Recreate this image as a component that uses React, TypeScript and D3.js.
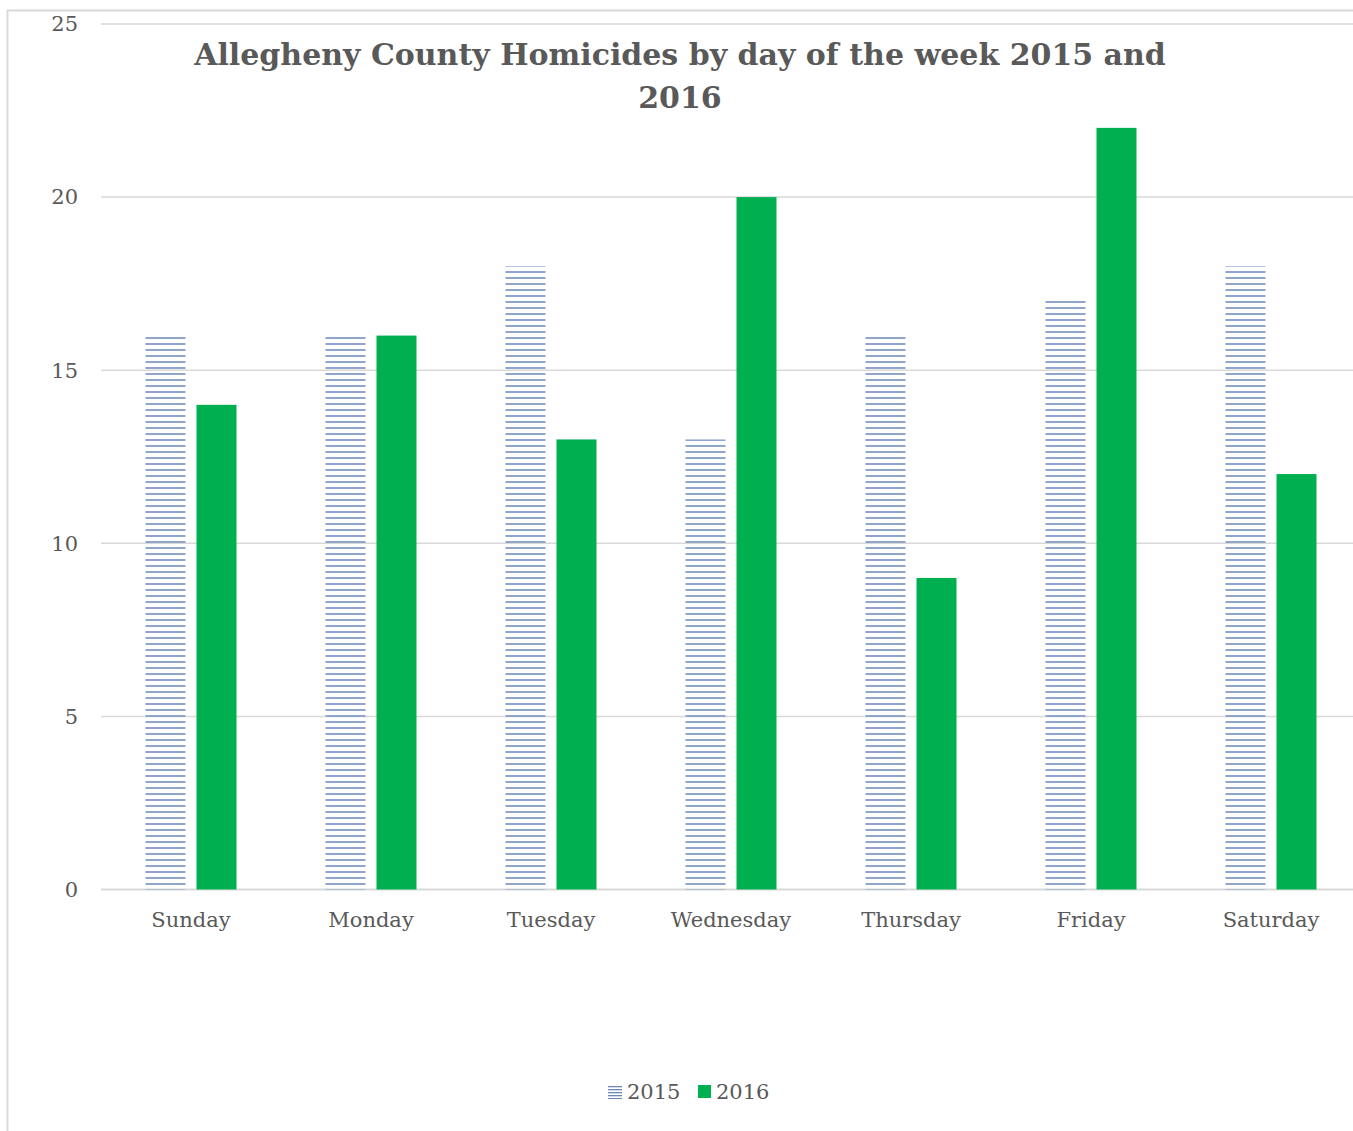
import React from "react";
import * as d3 from "d3";

const days = ["Sunday", "Monday", "Tuesday", "Wednesday", "Thursday", "Friday", "Saturday"];
const values2015 = [16, 16, 18, 13, 16, 17, 18];
const values2016 = [14, 16, 13, 20, 9, 22, 12];
const yTicks = [0, 5, 10, 15, 20, 25];
const seriesNames = ["2015", "2016"];

const W = 1353;
const H = 1131;
const FONT = "'DejaVu Serif', 'Liberation Serif', serif";
const TEXT = "#595959";
const GREEN = "#00B050";
const HATCH = "#8FA5C9";

export default function App() {
  const x = d3.scaleBand<string>().domain(days).range([101, 1361]);
  const y = d3.scaleLinear().domain([0, 25]).range([889.5, 24]);
  const barW = 40;
  const gap = 11;

  return (
    <svg width={W} height={H} style={{ position: "absolute", left: 0, top: 0, background: "#fff" }}>
      <defs>
        <pattern id="hatch" patternUnits="userSpaceOnUse" width={8} height={6} y={1}>
          <rect x={0} y={0} width={8} height={2} fill={HATCH} />
        </pattern>
        <pattern id="hatchSmall" patternUnits="userSpaceOnUse" width={8} height={3} y={0}>
          <rect x={0} y={0} width={8} height={1.3} fill="#6F88B3" />
        </pattern>
      </defs>
      <rect x={7.5} y={10.5} width={1360} height={1140} fill="#fff" stroke="#d9d9d9" strokeWidth={2} />
      {yTicks.map((t) => (
        <g key={t}>
          <line x1={101} x2={1361} y1={y(t)} y2={y(t)} stroke="#d9d9d9" strokeWidth={t === 0 ? 2 : 1.5} />
          <text x={78} y={y(t)} dy="0.35em" textAnchor="end" fontFamily={FONT} fontSize={21} fill={TEXT}>
            {t}
          </text>
        </g>
      ))}
      {days.map((d, i) => {
        const c = (x(d) as number) + x.bandwidth() / 2;
        const x1 = c - gap / 2 - barW;
        const x2 = c + gap / 2;
        return (
          <g key={d}>
            <rect x={x1} y={y(values2015[i])} width={barW} height={y(0) - y(values2015[i])} fill="url(#hatch)" />
            <rect x={x2} y={y(values2016[i])} width={barW} height={y(0) - y(values2016[i])} fill={GREEN} />
            <text x={c} y={920} dy="0.35em" textAnchor="middle" fontFamily={FONT} fontSize={21} fill={TEXT}>
              {d}
            </text>
          </g>
        );
      })}
      <text x={680} y={54} dy="0.35em" textAnchor="middle" fontFamily={FONT} fontSize={30} fontWeight="bold" fill={TEXT}>
        Allegheny County Homicides by day of the week 2015 and
      </text>
      <text x={680} y={97} dy="0.35em" textAnchor="middle" fontFamily={FONT} fontSize={30} fontWeight="bold" fill={TEXT}>
        2016
      </text>
      <g>
        <rect x={608} y={1086} width={14} height={13} fill="url(#hatchSmall)" />
        <text x={627} y={1092} dy="0.35em" fontFamily={FONT} fontSize={21} fill={TEXT}>{seriesNames[0]}</text>
        <rect x={698} y={1085} width={13} height={13} fill={GREEN} />
        <text x={716} y={1092} dy="0.35em" fontFamily={FONT} fontSize={21} fill={TEXT}>{seriesNames[1]}</text>
      </g>
    </svg>
  );
}
